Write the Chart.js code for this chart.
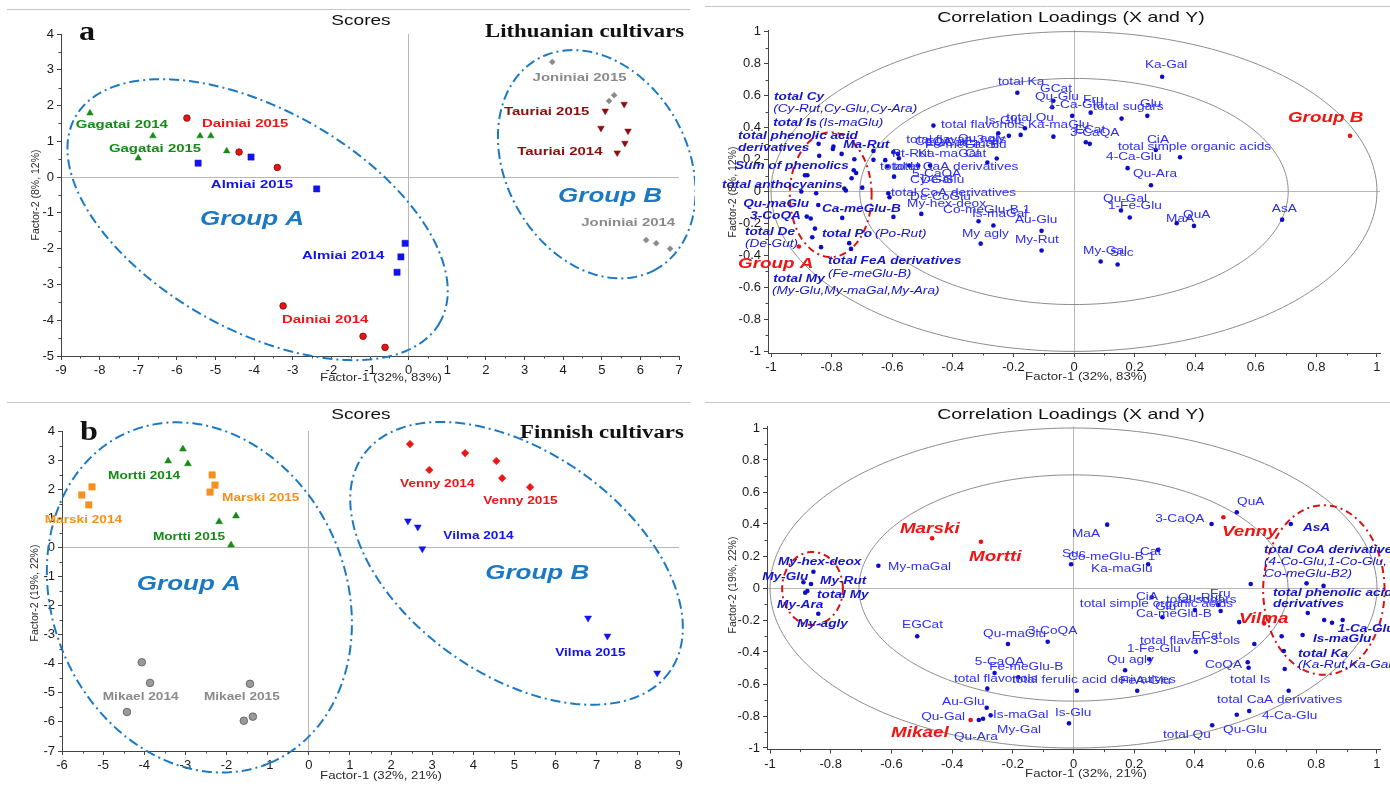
<!DOCTYPE html>
<html><head><meta charset="utf-8">
<script src="https://cdn.jsdelivr.net/npm/chart.js@4.4.1/dist/chart.umd.min.js"></script>
<style>
html,body{margin:0;padding:0;background:#fff;width:1390px;height:792px;overflow:hidden}
canvas{position:absolute}
</style></head><body>
<canvas id="c1" width="695" height="395" style="left:0;top:0"></canvas>
<canvas id="c2" width="695" height="395" style="left:695px;top:0"></canvas>
<canvas id="c3" width="695" height="395" style="left:0;top:397px"></canvas>
<canvas id="c4" width="695" height="395" style="left:695px;top:397px"></canvas>
<script>
// ---------------- DATA ----------------
// Panel a: Lithuanian cultivars scores
const gagatai  = [[-8.25,1.79],[-6.62,1.15],[-7.0,0.53],[-5.4,1.15],[-5.12,1.15],[-4.71,0.73]];
const dainiai  = [[-5.74,1.65],[-4.39,0.70],[-3.4,0.27],[-3.25,-3.6],[-1.18,-4.45],[-0.61,-4.76]];
const almiai   = [[-5.45,0.39],[-4.08,0.56],[-2.38,-0.33],[-0.09,-1.85],[-0.2,-2.23],[-0.3,-2.66]];
const joniniai = [[3.72,3.22],[5.32,2.29],[5.19,2.13],[6.15,-1.76],[6.41,-1.85],[6.77,-2.0]];
const tauriai  = [[5.58,2.04],[5.09,1.85],[4.98,1.37],[5.68,1.29],[5.6,0.95],[5.4,0.68]];
// Panel b: Finnish cultivars scores
const mortti = [[-3.06,3.38],[-3.42,2.97],[-2.94,2.87],[-2.18,0.88],[-1.77,1.08],[-1.89,0.08]];
const marski = [[-5.52,1.80],[-5.27,2.08],[-5.35,1.46],[-2.35,2.49],[-2.28,2.14],[-2.40,1.90]];
const mikael = [[-4.06,-3.95],[-3.86,-4.66],[-4.42,-5.66],[-1.43,-4.69],[-1.36,-5.82],[-1.58,-5.96]];
const venny  = [[2.46,3.55],[2.93,2.66],[3.80,3.24],[4.56,2.97],[4.70,2.38],[5.38,2.07]];
const vilma  = [[2.41,0.91],[2.65,0.70],[2.76,-0.05],[6.79,-2.43],[7.26,-3.05],[8.47,-4.32]];
// Correlation loadings (top: Lithuanian)
const loadTop = [
[-0.187,0.618],[-0.464,0.412],[-0.25,0.364],[-0.215,0.348],[-0.176,0.354],[-0.162,0.396],
[-0.843,0.298],[-0.794,0.281],[-0.796,0.266],[-0.767,0.235],[-0.841,0.223],[-0.725,0.202],
[-0.662,0.254],[-0.662,0.198],[-0.623,0.196],[-0.596,0.246],[-0.581,0.235],[-0.578,0.208],
[-0.727,0.133],[-0.719,0.116],[-0.734,0.083],[-0.888,0.102],[-0.880,0.102],[-0.594,0.093],
[-0.616,0.156],[-0.544,0.162],[-0.514,0.162],[-0.475,0.162],[-0.286,0.181],[-0.255,0.206],
[-0.9,0.0],[-0.851,-0.011],[-0.758,0.018],[-0.753,0.006],[-0.699,0.024],[-0.613,-0.011],[-0.609,-0.036],
[-0.844,-0.084],[-0.882,-0.157],[-0.869,-0.169],[-0.765,-0.165],[-0.596,-0.159],[-0.504,-0.14],
[-0.855,-0.232],[-0.864,-0.286],[-0.835,-0.348],[-0.742,-0.323],[-0.736,-0.359],
[-0.315,-0.186],[-0.266,-0.213],[-0.308,-0.326],[-0.107,-0.246],[-0.107,-0.369],
[0.155,-0.119],[0.184,-0.163],[0.339,-0.198],[0.396,-0.215],[0.687,-0.176],[0.088,-0.438],[0.144,-0.457],
[0.291,0.718],[-0.068,0.568],[-0.072,0.527],[0.055,0.493],[-0.006,0.473],[0.157,0.456],[0.242,0.473],
[-0.068,0.343],[0.039,0.308],[0.052,0.298],[0.27,0.26],[0.35,0.214],[0.177,0.146],[0.254,0.039]
];
const groupsTop = [[-0.908,-0.344],[0.911,0.348]];
// Correlation loadings (bottom: Finnish)
const loadBottom = [
[-0.643,0.139],[-0.857,0.102],[-0.89,0.036],[-0.865,0.025],[-0.877,-0.019],[-0.884,-0.029],[-0.841,-0.161],
[-0.515,-0.302],[-0.216,-0.35],[-0.085,-0.336],[-0.26,-0.531],[-0.182,-0.558],[-0.284,-0.629],
[-0.286,-0.748],[-0.273,-0.796],[-0.312,-0.825],[-0.298,-0.817],
[0.111,0.396],[0.455,0.40],[0.538,0.473],[0.716,0.40],[-0.008,0.148],[0.279,0.238],[0.246,0.148],
[0.584,0.025],[0.768,0.029],[0.824,0.013],[0.258,-0.058],[0.40,-0.138],[0.485,-0.144],[0.477,-0.106],
[0.293,-0.183],[0.546,-0.213],[0.772,-0.156],[0.826,-0.2],[0.852,-0.217],[0.887,-0.2],
[0.686,-0.302],[0.755,-0.294],[0.693,-0.394],[0.596,-0.35],[0.403,-0.398],[0.25,-0.446],[0.17,-0.514],
[0.574,-0.464],[0.577,-0.498],[0.696,-0.506],[0.011,-0.642],[0.21,-0.642],[0.709,-0.642],
[0.538,-0.792],[0.579,-0.769],[0.457,-0.858],[-0.015,-0.846]
];
const groupsBottom = [[-0.466,0.311],[-0.305,0.289],[-0.339,-0.825],[0.494,0.442],[0.628,-0.221]];

// tick values
const ticksAX = [-9,-8,-7,-6,-5,-4,-3,-2,-1,0,1,2,3,4,5,6,7];
const ticksAY = [-5,-4,-3,-2,-1,0,1,2,3,4];
const ticksBX = [-6,-5,-4,-3,-2,-1,0,1,2,3,4,5,6,7,8,9];
const ticksBY = [-7,-6,-5,-4,-3,-2,-1,0,1,2,3,4];
const ticksLoad = [-1,-0.8,-0.6,-0.4,-0.2,0,0.2,0.4,0.6,0.8,1];

// ellipses: [cx, cy, ux, uy, vx, vy] in data units
const ellA_groupA = [-3.91,-1.19,4.72,-2.87,-1.40,-2.68];
const ellA_groupB = [4.87,0.36,1.53,-2.94,-2.05,-1.24];
const ellB_groupA = [-2.66,-1.72,1.73,-5.68,-3.28,-1.99];
const ellB_groupB = [5.05,-0.55,3.73,-3.71,-1.56,-3.14];
const ringOuter = [0,0,1,0,0,1];
const ringInner = [0,0,0.707,0,0,0.707];
const ellTop_groupA = [-0.803,-0.02,0.135,0,0,0.39];
const ellBot_groupA = [-0.86,-0.003,0.1,0,0,0.228];
const ellBot_groupB = [0.825,-0.0125,0.2,0,0,0.53];

// labels: [text, x, y, style]
const labelsA = [
['Gagatai 2014',-8.62,1.37,'g'],['Dainiai 2015',-5.35,1.40,'r'],['Gagatai 2015',-7.76,0.70,'g'],
['Almiai 2015',-5.12,-0.31,'bl'],['Group A',-5.40,-1.34,'G'],['Almiai 2014',-2.76,-2.29,'bl'],
['Dainiai 2014',-3.28,-4.08,'r'],['Joniniai 2015',3.21,2.69,'gy'],['Tauriai 2015',2.47,1.73,'dr'],
['Tauriai 2014',2.81,0.62,'dr'],['Group B',3.87,-0.70,'G'],['Joniniai 2014',4.47,-1.37,'gy']
];
const labelsB = [
['Mortti 2014',-4.88,2.36,'g'],['Marski 2015',-2.11,1.59,'o'],['Marski 2014',-6.42,0.84,'o'],
['Mortti 2015',-3.79,0.25,'g'],['Group A',-4.18,-1.47,'G'],['Mikael 2014',-5.01,-5.24,'gy'],
['Mikael 2015',-2.55,-5.24,'gy'],['Venny 2014',2.22,2.08,'r'],['Venny 2015',4.24,1.49,'r'],
['Vilma 2014',3.27,0.29,'bl'],['Group B',4.29,-1.08,'G'],['Vilma 2015',5.99,-3.73,'bl']
];
const labelsTop = [
['Ka-Gal',0.234,0.772,'p'],['total Ka',-0.251,0.666,'p'],['GCat',-0.112,0.6225,'p'],['Qu-Glu',-0.129,0.5725,'p'],
['1-Ca-Glu',-0.086,0.5225,'p'],['Fru',0.030,0.554,'p'],['total sugars',0.063,0.51,'p'],['Glu',0.218,0.529,'p'],
['total Qu',-0.224,0.441,'p'],['total flavonols',-0.439,0.3975,'p'],['Is-Glu',-0.294,0.4225,'p'],['Ka-maGlu',-0.152,0.3975,'p'],
['ECat',0.003,0.366,'p'],['3-CaQA',-0.013,0.3475,'p'],['CiA',0.241,0.304,'p'],['total simple organic acids',0.145,0.26,'p'],
['4-Ca-Glu',0.106,0.1975,'p'],['Qu-Ara',0.195,0.091,'p'],['total flavan-3-ols',-0.554,0.304,'p'],['CoQA',-0.525,0.291,'p'],
['Qu agly',-0.383,0.31,'p'],['EGCat',-0.492,0.285,'p'],['Fe-meGlu-B',-0.492,0.2725,'p'],['Fe-Glu',-0.36,0.2725,'p'],
['Pt-Rut',-0.601,0.216,'p'],['Cat',-0.36,0.216,'p'],['Ka-maGal',-0.515,0.216,'p'],['total Is',-0.64,0.135,'p'],
['total CaA derivatives',-0.597,0.135,'p'],['5-CaQA',-0.535,0.091,'p'],['Cy-Gal',-0.541,0.054,'p'],['De-Glu',-0.505,0.054,'p'],
['total CoA derivatives',-0.604,-0.0275,'p'],['De-CoGlu',-0.541,-0.0525,'p'],['My-hex-deox',-0.551,-0.096,'p'],
['Co-meGlu-B 1',-0.432,-0.134,'p'],['Is-maGal',-0.337,-0.159,'p'],['Au-Glu',-0.195,-0.196,'p'],['My agly',-0.37,-0.284,'p'],
['My-Rut',-0.195,-0.321,'p'],['Qu-Gal',0.096,-0.0655,'p'],['1-Fe-Glu',0.112,-0.109,'p'],['MaA',0.304,-0.19,'p'],
['QuA',0.36,-0.165,'p'],['AsA',0.653,-0.1275,'p'],['My-Gal',0.03,-0.39,'p'],['Suc',0.119,-0.4025,'p'],
['total Cy',-0.990,0.5725,'b'],['total Is',-0.993,0.41,'b'],['total phenolic acid',-1.109,0.329,'b'],
['derivatives',-1.109,0.254,'b'],['Ma-Rut',-0.762,0.2725,'b'],['Sum of phenolics',-1.119,0.141,'b'],
['total anthocyanins',-1.162,0.0225,'b'],['Qu-maGlu',-1.092,-0.096,'b'],['3-CoQA',-1.069,-0.171,'b'],
['Ca-meGlu-B',-0.832,-0.1275,'b'],['total De',-1.086,-0.2725,'b'],['total Po',-0.832,-0.284,'b'],
['total FeA derivatives',-0.812,-0.4525,'b'],['total My',-0.993,-0.565,'b'],
['(Cy-Rut,Cy-Glu,Cy-Ara)',-0.993,0.4975,'i'],['(Is-maGlu)',-0.842,0.41,'i'],['(De-Gut)',-1.086,-0.346,'i'],
['(Po-Rut)',-0.657,-0.284,'i'],['(Fe-meGlu-B)',-0.812,-0.534,'i'],['(My-Glu,My-maGal,My-Ara)',-0.997,-0.64,'i'],
['Group A',-1.109,-0.4775,'r'],['Group B',0.706,0.435,'r']
];
const labelsBottom = [
['QuA',0.539,0.519,'p'],['3-CaQA',0.269,0.4125,'p'],['MaA',-0.005,0.319,'p'],['Suc',-0.038,0.194,'p'],
['Co-meGlu-B 1',-0.018,0.175,'p'],['Cat',0.219,0.206,'p'],['Ka-maGlu',0.058,0.1,'p'],['CiA',0.206,-0.075,'p'],
['total sugars',0.305,-0.094,'p'],['Qu-Rut',0.344,-0.081,'p'],['Fru',0.45,-0.056,'p'],
['total simple organic acids',0.021,-0.119,'p'],['Glu',0.269,-0.1375,'p'],['Ca-meGlu-B',0.206,-0.181,'p'],
['ECat',0.39,-0.319,'p'],['total flavan-3-ols',0.219,-0.35,'p'],['1-Fe-Glu',0.176,-0.4,'p'],['Qu agly',0.11,-0.469,'p'],
['CoQA',0.433,-0.5,'p'],['total Is',0.516,-0.594,'p'],['total ferulic acid derivatives',-0.203,-0.594,'p'],
['FeA-Glu',0.153,-0.6,'p'],['total CaA derivatives',0.473,-0.719,'p'],['4-Ca-Glu',0.621,-0.819,'p'],
['Qu-Glu',0.493,-0.906,'p'],['total Qu',0.295,-0.9375,'p'],['Is-Glu',-0.061,-0.8,'p'],['Is-maGal',-0.265,-0.8125,'p'],
['My-Gal',-0.252,-0.906,'p'],['Qu-Ara',-0.394,-0.95,'p'],['Qu-Gal',-0.502,-0.825,'p'],['Au-Glu',-0.433,-0.731,'p'],
['total flavonols',-0.394,-0.5875,'p'],['5-CaQA',-0.325,-0.481,'p'],['Fe-meGlu-B',-0.278,-0.5125,'p'],
['Qu-maGlu',-0.298,-0.306,'p'],['3-CoQA',-0.15,-0.2875,'p'],['EGCat',-0.565,-0.25,'p'],['My-maGal',-0.611,0.1125,'p'],
['AsA',0.756,0.356,'b'],['total CoA derivatives',0.628,0.219,'b'],['total phenolic acid',0.657,-0.05,'b'],
['derivatives',0.657,-0.119,'b'],['1-Ca-Glu',0.871,-0.275,'b'],['Is-maGlu',0.789,-0.3375,'b'],['total Ka',0.74,-0.431,'b'],
['My-hex-deox',-0.974,0.144,'b'],['My-Glu',-1.026,0.05,'b'],['My-Rut',-0.835,0.025,'b'],['total My',-0.845,-0.0625,'b'],
['My-Ara',-0.977,-0.125,'b'],['My-agly',-0.911,-0.244,'b'],
['(4-Co-Glu,1-Co-Glu,',0.628,0.144,'i'],['Co-meGlu-B2)',0.628,0.069,'i'],['(Ka-Rut,Ka-Gal',0.74,-0.5,'i'],
['Marski',-0.572,0.344,'r'],['Mortti',-0.344,0.169,'r'],['Mikael',-0.601,-0.931,'r'],['Venny',0.489,0.325,'r'],['Vilma',0.545,-0.219,'r']
];

// ---------------- RENDERING ----------------
const SANS = '"Liberation Sans", Arial, sans-serif';
const SERIF = '"Liberation Serif", "Times New Roman", serif';
Chart.defaults.font.family = SANS;

const toPts = a => a.map(p => ({x:p[0], y:p[1]}));

function drawText(ctx, s, x, y, font, color, sx, align){
  ctx.save(); ctx.font = font; ctx.fillStyle = color; ctx.textBaseline = 'alphabetic';
  ctx.textAlign = align || 'left'; ctx.translate(x, y); ctx.scale(sx || 1, 1);
  ctx.fillText(s, 0, 0); ctx.restore();
}
function drawVText(ctx, s, x, y, font, color){
  ctx.save(); ctx.font = font; ctx.fillStyle = color; ctx.textAlign = 'center'; ctx.textBaseline = 'middle';
  ctx.translate(x, y); ctx.rotate(-Math.PI/2); ctx.fillText(s, 0, 0); ctx.restore();
}
function ellipsePath(ctx, xs, ys, g){
  ctx.beginPath();
  const N = 240;
  for (let i = 0; i <= N; i++){
    const t = i / N * 2 * Math.PI;
    const X = g[0] + g[2]*Math.cos(t) + g[4]*Math.sin(t);
    const Y = g[1] + g[3]*Math.cos(t) + g[5]*Math.sin(t);
    const px = xs.getPixelForValue(X), py = ys.getPixelForValue(Y);
    if (i) ctx.lineTo(px, py); else ctx.moveTo(px, py);
  }
  ctx.closePath();
}

function makeDecor(d){
  return {
    id: 'decor',
    beforeDatasetsDraw(chart){
      const ctx = chart.ctx, xs = chart.scales.x, ys = chart.scales.y;
      (d.curves || []).forEach(c => {
        ctx.save(); ctx.strokeStyle = c.color; ctx.lineWidth = c.w; ctx.setLineDash(c.dash || []);
        ellipsePath(ctx, xs, ys, c.geo); ctx.stroke(); ctx.restore();
      });
    },
    afterDatasetsDraw(chart){
      const ctx = chart.ctx, xs = chart.scales.x, ys = chart.scales.y;
      (d.labels || []).forEach(l => {
        const st = d.styles[l[3]];
        drawText(ctx, l[0], xs.getPixelForValue(l[1]), ys.getPixelForValue(l[2]), st.font, st.color, st.sx || 1.3);
      });
    },
    afterDraw(chart){
      const ctx = chart.ctx, xs = chart.scales.x, ys = chart.scales.y, a = chart.chartArea;
      // minor ticks
      ctx.save(); ctx.strokeStyle = '#444'; ctx.lineWidth = 1;
      const m = d.minor;
      const minorVals = (lo, hi) => {
        const out = [];
        const k0 = Math.ceil(lo / m - 1e-9), k1 = Math.floor(hi / m + 1e-9);
        for (let k = k0; k <= k1; k++){
          const vv = k * m;
          if (Math.abs(vv / d.major - Math.round(vv / d.major)) < 1e-6) continue;
          out.push(vv);
        }
        return out;
      };
      minorVals(xs.min, xs.max).forEach(vv => {
        const px = Math.round(xs.getPixelForValue(vv)) + 0.5;
        ctx.beginPath(); ctx.moveTo(px, a.bottom); ctx.lineTo(px, a.bottom + 2.5); ctx.stroke();
      });
      minorVals(ys.min, ys.max).forEach(vv => {
        const py = Math.round(ys.getPixelForValue(vv)) + 0.5;
        ctx.beginPath(); ctx.moveTo(a.left - 2.5, py); ctx.lineTo(a.left, py); ctx.stroke();
      });
      ctx.restore();
      // separator line
      ctx.save(); ctx.strokeStyle = '#c4c4c4'; ctx.lineWidth = 1;
      ctx.beginPath(); ctx.moveTo(d.sep[0], d.sep[2] + 0.5); ctx.lineTo(d.sep[1], d.sep[2] + 0.5); ctx.stroke(); ctx.restore();
      // texts
      (d.texts || []).forEach(t => {
        if (t.v) drawVText(ctx, t.s, t.x, t.y, t.font, t.color);
        else drawText(ctx, t.s, t.x, t.y, t.font, t.color, t.sx, t.align);
      });
    }
  };
}

function axis(min, max, ticksArr, isX, size){
  return {
    type: 'linear', min, max,
    afterBuildTicks: s => { s.ticks = ticksArr.map(v => ({value: v})); },
    afterFit: s => { if (isX) s.height = size; else s.width = size; },
    grid: {
      color: c => (c.tick && Math.abs(c.tick.value) < 1e-9) ? '#b8b8b8' : 'rgba(0,0,0,0)',
      tickColor: '#444', tickLength: 4, lineWidth: 1, drawOnChartArea: true, drawTicks: true
    },
    border: {display: true, color: '#444', width: 1},
    ticks: {
      font: {family: SANS, size: 13}, color: '#1a1a1a', padding: 3, autoSkip: false, maxRotation: 0,
      callback: v => String(Math.round(v * 10) / 10)
    }
  };
}

function makeChart(id, datasets, xr, yr, pad, decor){
  return new Chart(document.getElementById(id), {
    type: 'scatter',
    data: {datasets},
    options: {
      responsive: false, animation: false, devicePixelRatio: 1, events: [],
      layout: {padding: pad},
      plugins: {legend: {display: false}, tooltip: {enabled: false}, title: {display: false}},
      scales: {x: axis(xr[0], xr[1], xr[2], true, 24), y: axis(yr[0], yr[1], yr[2], false, 40)}
    },
    plugins: [makeDecor(decor)]
  });
}

function ds(arr, style, r, fill, border, bw, rot){
  return {data: toPts(arr), showLine: false, pointStyle: style, pointRadius: r,
    pointBackgroundColor: fill, pointBorderColor: border, pointBorderWidth: bw, pointRotation: rot || 0};
}

const GREEN = '#168a16', RED = '#ee1515', BLUE = '#1212ee', GRAY = '#8a8a8a', DRED = '#8b0e0e', ORANGE = '#f5901e', GROUPC = '#1b79c4';
function scoreStyles(sz){
  const f = `bold ${sz}px ${SANS}`;
  return {g:{font:f,color:GREEN}, r:{font:f,color:RED}, bl:{font:f,color:BLUE}, gy:{font:f,color:GRAY},
    dr:{font:f,color:DRED}, o:{font:f,color:ORANGE}, G:{font:`italic bold 20px ${SANS}`, color:GROUPC}};
}
const loadStyles = {
  p:{font:`10.5px ${SANS}`, color:'#2e2ef5'},
  b:{font:`italic bold 10.5px ${SANS}`, color:'#1515cf'},
  i:{font:`italic 10.5px ${SANS}`, color:'#1515cf'},
  r:{font:`italic bold 14.5px ${SANS}`, color:'#f01414'}
};
const axFont = `11px ${SANS}`, axCol = '#2a2a2a';
const scoreEll = g => ({geo: g, color: GROUPC, w: 2, dash: [10,4,2,4]});
const ring = g => ({geo: g, color: '#8c8c8c', w: 1});
const redEll = g => ({geo: g, color: '#d81010', w: 2, dash: [7,4,2,4]});

// Panel a
makeChart('c1', [
  ds(gagatai,'triangle',3.8,GREEN,GREEN,0.5),
  ds(dainiai,'circle',3.3,'#e81414','#7a0a0a',0.8),
  ds(almiai,'rect',4.4,BLUE,BLUE,0.5),
  ds(joniniai,'rectRot',3,GRAY,GRAY,0.5),
  ds(tauriai,'triangle',3.8,DRED,DRED,0.5,180)
], [-9,7,ticksAX], [-5,4,ticksAY], {left:21, top:34, right:16, bottom:15}, {
  curves: [scoreEll(ellA_groupA), scoreEll(ellA_groupB)],
  labels: labelsA, styles: scoreStyles(11.5), minor: 0.5, major: 1, sep: [7, 690, 9],
  texts: [
    {s:'Scores', x:361, y:25, font:`15px ${SANS}`, color:'#111', sx:1.27, align:'center'},
    {s:'a', x:79, y:40, font:`bold 28px ${SERIF}`, color:'#111', sx:1.15},
    {s:'Lithuanian cultivars', x:485, y:37, font:`bold 18.5px ${SERIF}`, color:'#111', sx:1.23},
    {s:'Factor-1 (32%, 83%)', x:381, y:381, font:axFont, color:axCol, sx:1.2, align:'center'},
    {s:'Factor-2 (8%, 12%)', x:36, y:195, font:`10.5px ${SANS}`, color:axCol, v:true}
  ]
});

// Panel top-right loadings
makeChart('c2', [
  ds(loadTop,'circle',2.3,'#0d0dc9','#0d0dc9',0),
  ds(groupsTop,'circle',2.3,'#ee1111','#ee1111',0)
], [-1.01,1.01,ticksLoad], [-1.01,1.01,ticksLoad], {left:33, top:30, right:10, bottom:18}, {
  curves: [ring(ringOuter), ring(ringInner), redEll(ellTop_groupA)],
  labels: labelsTop, styles: loadStyles, minor: 0.1, major: 0.2, sep: [10, 695, 6],
  texts: [
    {s:'Correlation Loadings (X and Y)', x:376, y:22, font:`15px ${SANS}`, color:'#111', sx:1.3, align:'center'},
    {s:'Factor-1 (32%, 83%)', x:391, y:380, font:axFont, color:axCol, sx:1.2, align:'center'},
    {s:'Factor-2 (8%, 12%)', x:38, y:192, font:`10.5px ${SANS}`, color:axCol, v:true}
  ]
});

// Panel b
makeChart('c3', [
  ds(mortti,'triangle',4,GREEN,GREEN,0.5),
  ds(marski,'rect',4.6,ORANGE,ORANGE,0.5),
  ds(mikael,'circle',3.8,'#9a9a9a','#555',0.8),
  ds(venny,'rectRot',3.8,RED,RED,0.5),
  ds(vilma,'triangle',4,BLUE,BLUE,0.5,180)
], [-6,9,ticksBX], [-7,4,ticksBY], {left:22, top:34, right:16, bottom:17}, {
  curves: [scoreEll(ellB_groupA), scoreEll(ellB_groupB)],
  labels: labelsB, styles: scoreStyles(10.5), minor: 0.5, major: 1, sep: [7, 690, 5],
  texts: [
    {s:'Scores', x:361, y:22, font:`15px ${SANS}`, color:'#111', sx:1.27, align:'center'},
    {s:'b', x:80, y:43, font:`bold 28px ${SERIF}`, color:'#111', sx:1.15},
    {s:'Finnish cultivars', x:520, y:41, font:`bold 18.5px ${SERIF}`, color:'#111', sx:1.23},
    {s:'Factor-1 (32%, 21%)', x:381, y:382, font:axFont, color:axCol, sx:1.2, align:'center'},
    {s:'Factor-2 (19%, 22%)', x:35, y:196, font:`10.5px ${SANS}`, color:axCol, v:true}
  ]
});

// Panel bottom-right loadings
makeChart('c4', [
  ds(loadBottom,'circle',2.3,'#0d0dc9','#0d0dc9',0),
  ds(groupsBottom,'circle',2.3,'#ee1111','#ee1111',0)
], [-1.01,1.01,ticksLoad], [-1.01,1.01,ticksLoad], {left:32, top:29.4, right:10, bottom:18.4}, {
  curves: [ring(ringOuter), ring(ringInner), redEll(ellBot_groupA), redEll(ellBot_groupB)],
  labels: labelsBottom, styles: loadStyles, minor: 0.1, major: 0.2, sep: [10, 695, 5],
  texts: [
    {s:'Correlation Loadings (X and Y)', x:376, y:22, font:`15px ${SANS}`, color:'#111', sx:1.3, align:'center'},
    {s:'Factor-1 (32%, 21%)', x:391, y:380, font:axFont, color:axCol, sx:1.2, align:'center'},
    {s:'Factor-2 (19%, 22%)', x:38, y:188, font:`10.5px ${SANS}`, color:axCol, v:true}
  ]
});
</script>
</body></html>
